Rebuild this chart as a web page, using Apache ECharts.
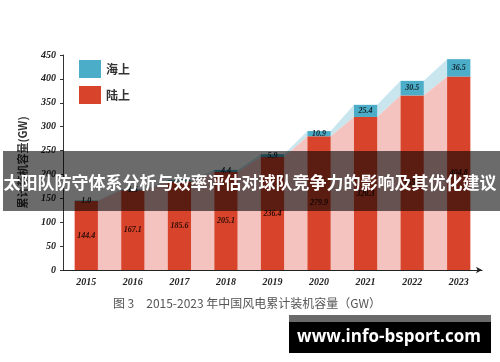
<!DOCTYPE html>
<html>
<head>
<meta charset="utf-8">
<script src="https://cdn.jsdelivr.net/npm/echarts@6/dist/echarts.min.js"></script>
<style>html,body{margin:0;padding:0;background:#fff;}#c{width:500px;height:362px;}</style>
</head>
<body>
<div id="c"></div>
<script>
const years = ['2015', '2016', '2017', '2018', '2019', '2020', '2021', '2022', '2023'];
const onshore = [144.4, 167.1, 185.6, 205.1, 236.4, 279.9, 320.3, 365.4, 404.8];
const offshore = [1.0, 1.6, 2.8, 4.4, 5.9, 10.9, 25.4, 30.5, 36.5];
const yMin = 0, yMax = 450, yStep = 50;
const seriesNames = ['海上', '陆上'];
const yAxisName = '累计装机容量(GW)';
const caption = '图 3　2015-2023 年中国风电累计装机容量（GW）';
const bannerText = '太阳队防守体系分析与效率评估对球队竞争力的影响及其优化建议';
const watermark = 'www.info-bsport.com';

const RED = '#d8432c', TEAL = '#4badc7';
const serif = '"Liberation Serif", "DejaVu Serif", serif';

const areaData = [];
for (let i = 0; i < years.length - 1; i++) {
  areaData.push([i, onshore[i], onshore[i + 1], onshore[i] + offshore[i], onshore[i + 1] + offshore[i + 1]]);
}

const chart = echarts.init(document.getElementById('c'), null, {renderer: 'canvas'});
chart.setOption({
  animation: false,
  backgroundColor: '#fff',
  grid: {left: 63, right: 18, top: 55, bottom: 92},
  legend: {
    orient: 'vertical', left: 74, top: 55, itemWidth: 22, itemHeight: 18, itemGap: 8, icon: 'rect',
    data: seriesNames,
    textStyle: {fontFamily: '"Noto Sans CJK SC"', fontSize: 12, color: '#333', fontWeight: 'bold'}
  },
  xAxis: {
    type: 'category', data: years, boundaryGap: true,
    axisLine: {lineStyle: {color: '#222', width: 1}, symbol: ['none', 'arrow'], symbolSize: [5, 6]},
    axisTick: {inside: true, length: 3, alignWithLabel: false, lineStyle: {color: '#222'}},
    axisLabel: {fontFamily: serif, fontStyle: 'italic', fontWeight: 'bold', fontSize: 10, color: '#222', margin: 7}
  },
  yAxis: {
    type: 'value', min: yMin, max: yMax, interval: yStep,
    name: yAxisName, nameLocation: 'middle', nameRotate: 90, nameGap: 35,
    nameTextStyle: {fontFamily: '"Noto Sans CJK SC"', fontSize: 11, fontWeight: 'bold', color: '#333'},
    splitLine: {show: false},
    axisLine: {show: true, lineStyle: {color: '#333', width: 1}},
    axisTick: {show: true, inside: false, length: 3, lineStyle: {color: '#333'}},
    axisLabel: {fontFamily: serif, fontStyle: 'italic', fontWeight: 'bold', fontSize: 10, color: '#222', margin: 7}
  },
  series: [
    {
      type: 'custom', z: 1, silent: true,
      data: areaData,
      encode: {x: 0, y: 1},
      renderItem: function (params, api) {
        const i = api.value(0);
        const band = api.size([1, 0])[0];
        const half = band * 0.25;
        const a = api.coord([i, api.value(1)]);
        const b = api.coord([i + 1, api.value(2)]);
        const a0 = api.coord([i, 0]);
        const b0 = api.coord([i + 1, 0]);
        const ta = api.coord([i, api.value(3)]);
        const tb = api.coord([i + 1, api.value(4)]);
        const xa = a[0] + half, xb = b[0] - half;
        return {
          type: 'group',
          children: [
            {type: 'polygon', shape: {points: [[xa, ta[1]], [xb, tb[1]], [xb, b[1]], [xa, a[1]]]}, style: {fill: '#c9e6ef'}},
            {type: 'polygon', shape: {points: [[xa, a[1]], [xb, b[1]], [xb, b0[1]], [xa, a0[1]]]}, style: {fill: '#f4c3bf'}}
          ]
        };
      }
    },
    {
      name: seriesNames[1], type: 'bar', stack: 'total', barWidth: '50%', z: 3,
      data: onshore, itemStyle: {color: RED},
      label: {show: true, position: 'inside', fontFamily: serif, fontStyle: 'italic', fontWeight: 'bold', fontSize: 8, color: '#2a0c06',
        formatter: p => p.value.toFixed(1)}
    },
    {
      name: seriesNames[0], type: 'bar', stack: 'total', barWidth: '50%', z: 3,
      data: offshore, itemStyle: {color: TEAL},
      label: {show: true, position: 'inside', fontFamily: serif, fontStyle: 'italic', fontWeight: 'bold', fontSize: 8, color: '#10222c',
        formatter: p => p.value.toFixed(1)}
    }
  ],
  graphic: [
    {type: 'rect', z: 100, shape: {x: 3, y: 151, width: 497, height: 60}, style: {fill: 'rgba(0,0,0,0.58)'}},
    {type: 'text', z: 101, x: 250, y: 183, style: {text: bannerText, fill: '#fff', font: 'bold 17px "Noto Sans CJK SC"', textAlign: 'center', textVerticalAlign: 'middle'}},
    {type: 'text', z: 101, x: 247, y: 303, style: {text: caption, fill: '#555', font: '12px "Noto Sans CJK SC"', textAlign: 'center', textVerticalAlign: 'middle'}},
    {type: 'rect', z: 100, shape: {x: 289, y: 315, width: 202, height: 8}, style: {fill: '#6a6a6a'}},
    {type: 'rect', z: 100, shape: {x: 289, y: 322, width: 202, height: 31}, style: {fill: '#000'}},
    {type: 'text', z: 101, x: 389, y: 337, style: {text: watermark, fill: '#fff', font: 'bold 17px "Open Sans"', textAlign: 'center', textVerticalAlign: 'middle'}}
  ]
});
</script>
</body>
</html>
